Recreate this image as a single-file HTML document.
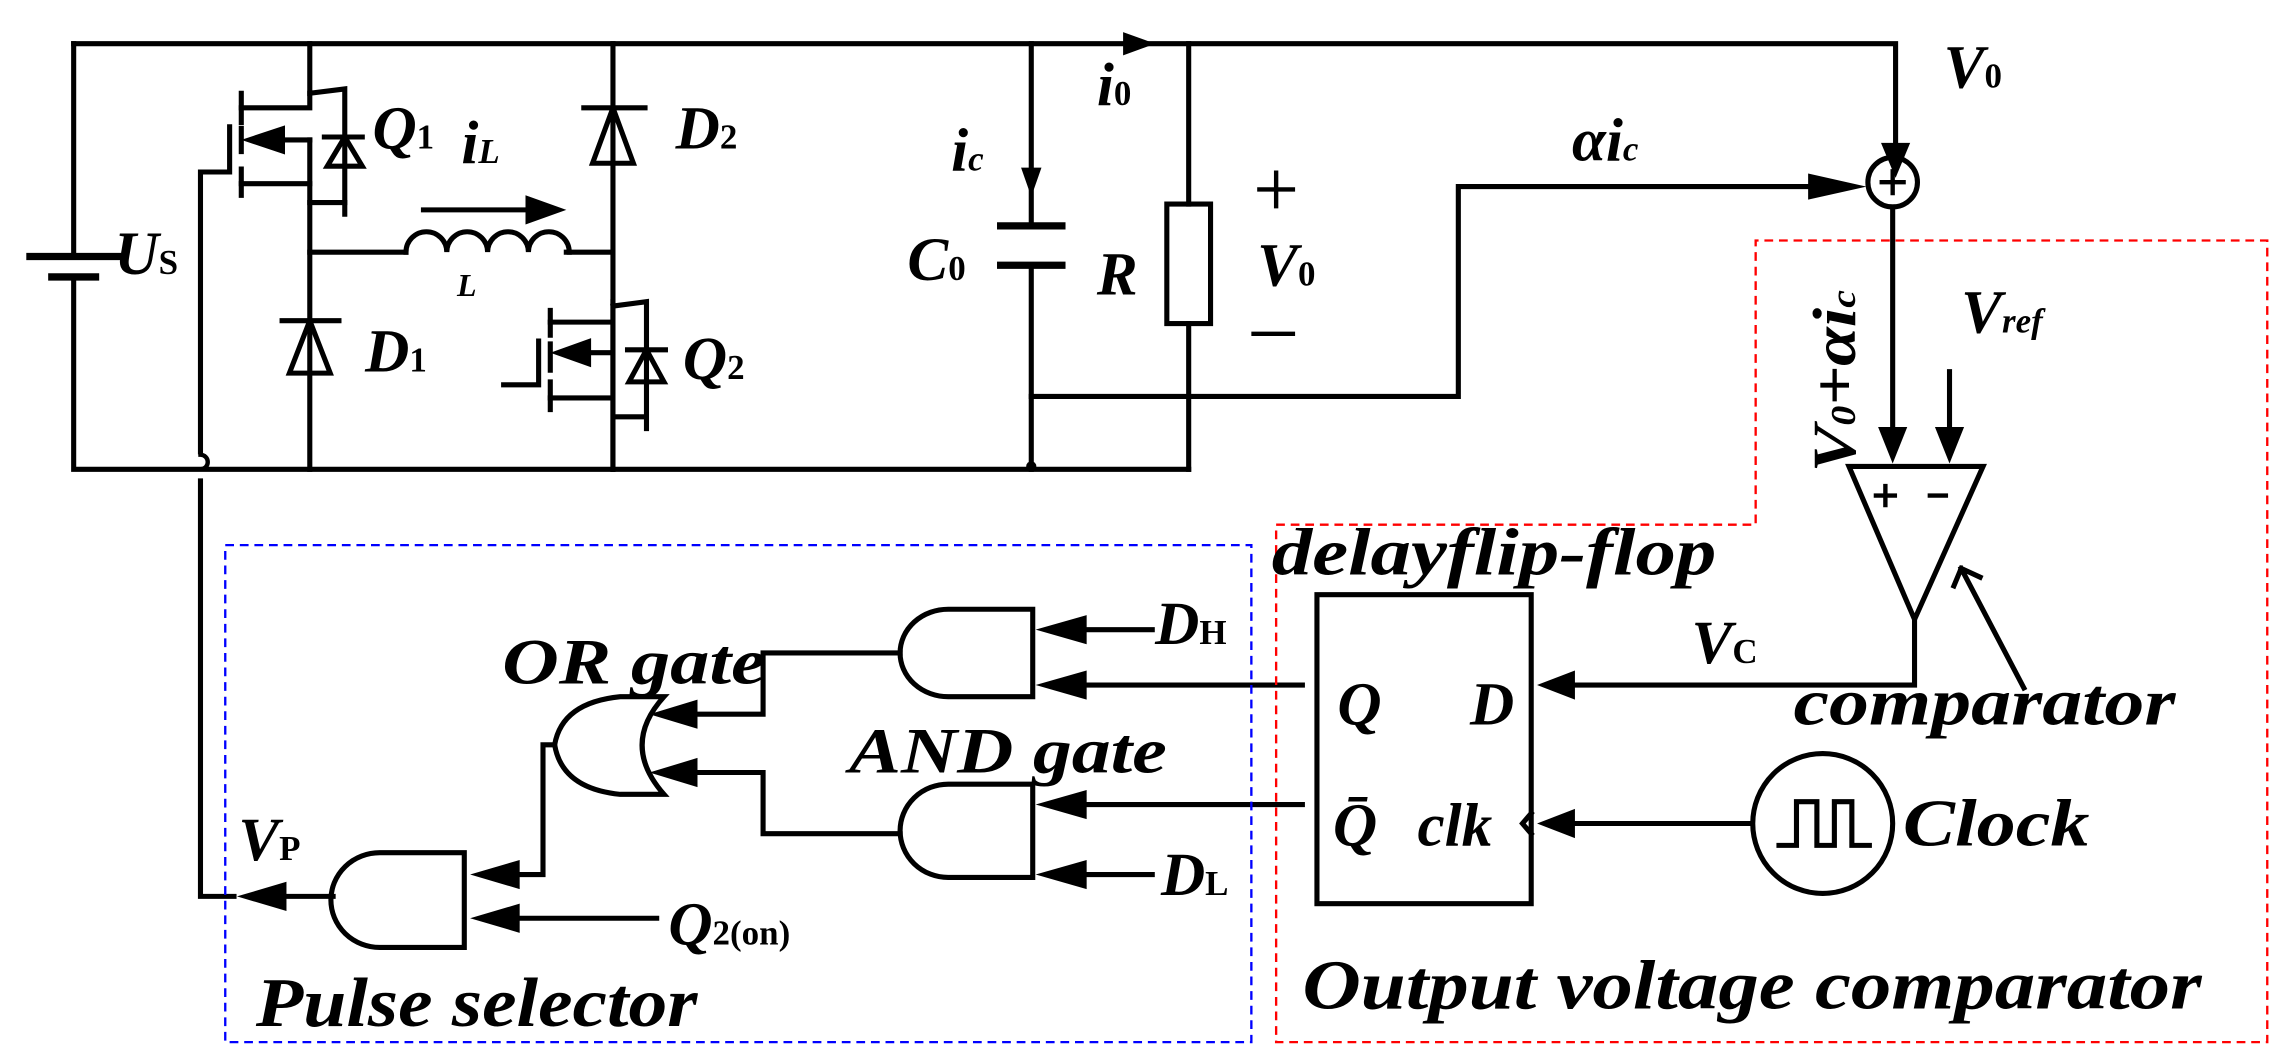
<!DOCTYPE html>
<html><head><meta charset="utf-8"><style>
html,body{margin:0;padding:0;background:#fff;}
svg{display:block}
text{font-family:"Liberation Serif",serif;font-style:italic;font-weight:bold;fill:#000}
</style></head><body>
<svg width="2287" height="1064" viewBox="0 0 1568 730" xmlns="http://www.w3.org/2000/svg">
<g stroke="#000" stroke-width="3.5" fill="none" stroke-linecap="square">
<path d="M50 30 H1300 V115"/>
<path d="M50 30 V176 M50 190 V322 H815"/>
<path d="M20 176 H80" stroke-width="5"/><path d="M35 190 H65" stroke-width="5"/>
<path d="M212 30 V64 L236 61 V147"/>
<path d="M212 64 V74 H165"/>
<path d="M212 96 V322"/>
<path d="M212 126 H165 M212 139 H236"/>
<path d="M165 64 V84 M165 88 V104 M165 116 V134"/>
<path d="M157 87 V118 H137 V310"/>
<path d="M195 96 H212"/>
<path d="M222 94 H248 M224 114 L236 94 L248 114 Z"/>
<path d="M212 173 H278 M388 173 H420"/>
<path d="M278 173 a14 14 0 0 1 28 0 a14 14 0 0 1 28 0 a14 14 0 0 1 28 0 a14 14 0 0 1 28 0"/>
<path d="M290 144 H365"/>
<path d="M193 220 H232 M198 256 L212 220 L226 256 Z"/>
<path d="M420 30 V322"/>
<path d="M400 74 H442 M406 112 L420 74 L434 112 Z"/>
<path d="M420 207 V221 H377 M420 210 L443 207 V294 M420 221 V322 M420 273 H377 M420 286 H443"/>
<path d="M377 213 V230 M377 236 V254 M377 262 V281"/>
<path d="M369 234 V264 H345"/>
<path d="M405 242 H420"/>
<path d="M430 240 H456 M431 262 L443 240 L455 262 Z"/>
<path d="M707 30 V155 M707 182 V322"/>
<path d="M686 155 H728 M686 182 H728" stroke-width="5"/>
<path d="M815 30 V140 M815 222 V322"/>
<rect x="800" y="140" width="30" height="82"/>
<path d="M707 272 H1000 V128 H1268"/>
<circle cx="1298" cy="125" r="17"/>
<path d="M1298 142 V300 M1337 255 V300"/>
<path d="M1268 320 H1360 L1313 425 Z"/>
<path d="M1313 425 V470 H1065"/>
<path d="M1388 472 L1345 390 M1345 390 L1340 402 M1345 390 L1358 396"/>
<rect x="903" y="408" width="147" height="212"/>
<path d="M1050 558 L1044 565 L1050 572"/>
<circle cx="1250" cy="565" r="48"/>
<path d="M1200 565 H1068"/>
<path d="M1220 580 H1232 V550 H1246 V580 H1258 V550 H1270 V580 H1282"/>
<path d="M708 418 H650 A33 30 0 0 0 650 478 H708 Z"/>
<path d="M708 538 H650 A33 32 0 0 0 650 602 H708 Z"/>
<path d="M318 585 H260 A33 32 0 0 0 260 650 H318 Z"/>
<path d="M455 478 H425 Q385 482 380 511 Q385 541 425 545 H455 Q425 511 455 478 Z"/>
<path d="M790 432 H728 M893 470 H728 M893 552 H728 M790 600 H728"/>
<path d="M617 448 H523 V490 H460 M617 572 H523 V530 H460"/>
<path d="M380 511 H372 V600 H338 M450 630 H338"/>
<path d="M228 615 H180 M160 615 H137 V330"/>
<path d="M137 322 a5 5 0 0 0 0 -10" stroke-width="3"/>
</g>
<g fill="#000">
<path d="M770 22 L792 30 L770 38 Z"/>
<path d="M700 115 L707 135 L714 115 Z"/>
<path d="M1290 98 L1300 122 L1310 98 Z"/>
<path d="M1240 119 L1280 128 L1240 137 Z"/>
<path d="M1288 293 L1298 318 L1308 293 Z"/>
<path d="M1327 293 L1337 318 L1347 293 Z"/>
<path d="M1080 460 L1054 470 L1080 480 Z"/>
<path d="M1080 555 L1054 565 L1080 575 Z"/>
<path d="M745 422 L710 432 L745 442 Z"/>
<path d="M745 460 L710 470 L745 480 Z"/>
<path d="M745 542 L710 552 L745 562 Z"/>
<path d="M745 590 L710 600 L745 610 Z"/>
<path d="M478 480 L445 490 L478 500 Z"/>
<path d="M478 520 L445 530 L478 540 Z"/>
<path d="M356 590 L322 600 L356 610 Z"/>
<path d="M356 620 L322 630 L356 640 Z"/>
<path d="M196 605 L162 615 L196 625 Z"/>
<path d="M360 134 L388 144 L360 154 Z"/>
<path d="M165 96 L195 86 L195 106 Z"/>
<path d="M377 242 L405 232 L405 252 Z"/>
<circle cx="707" cy="320" r="3.5"/>
</g>
<g stroke="#000" stroke-width="3">
<path d="M1298 116 V134 M1289 125 H1307"/>
<path d="M862 130 H888 M875 117 V143 M858 229 H888"/>
<path d="M1285 340 H1301 M1293 332 V348 M1322 340 H1336"/>
</g>
<rect x="154" y="374" width="704" height="341" fill="none" stroke="#0000ff" stroke-width="1.6" stroke-dasharray="6,4"/>
<path d="M875 360 H1204 V165 H1555 V715 H875 Z" fill="none" stroke="#ff0000" stroke-width="1.6" stroke-dasharray="6,4"/>
<g font-size="42">
<text x="78" y="188">U<tspan font-size="24" font-style="normal">S</tspan></text>
<text x="255" y="102">Q<tspan font-size="24" font-style="normal">1</tspan></text>
<text x="316" y="112">i<tspan font-size="24">L</tspan></text>
<text x="463" y="102">D<tspan font-size="24" font-style="normal">2</tspan></text>
<text x="250" y="255">D<tspan font-size="24" font-style="normal">1</tspan></text>
<text x="468" y="260">Q<tspan font-size="24" font-style="normal">2</tspan></text>
<text x="313" y="203" font-size="22">L</text>
<text x="752" y="72">i<tspan font-size="24" font-style="normal">0</tspan></text>
<text x="652" y="117">i<tspan font-size="24">c</tspan></text>
<text x="622" y="192">C<tspan font-size="24" font-style="normal">0</tspan></text>
<text x="752" y="202">R</text>
<text x="862" y="196">V<tspan font-size="24" font-style="normal">0</tspan></text>
<text x="1333" y="60">V<tspan font-size="24" font-style="normal">0</tspan></text>
<text x="1078" y="110">αi<tspan font-size="24">c</tspan></text>
<text x="1345" y="228">V<tspan font-size="24">ref</tspan></text>
<text transform="translate(1272,324) rotate(-90)" textLength="125" lengthAdjust="spacingAndGlyphs">V<tspan font-size="24">0</tspan>+αi<tspan font-size="24">c</tspan></text>
<text x="1160" y="455">V<tspan font-size="24" font-style="normal">C</tspan></text>
<text x="872" y="394" font-size="46" textLength="305" lengthAdjust="spacingAndGlyphs">delayflip-flop</text>
<text x="917" y="497">Q</text>
<text x="1008" y="497">D</text>
<text x="914" y="580">Q̄</text>
<text x="972" y="580">clk</text>
<text x="1230" y="497" font-size="46" textLength="262" lengthAdjust="spacingAndGlyphs">comparator</text>
<text x="1305" y="580" font-size="46" textLength="128" lengthAdjust="spacingAndGlyphs">Clock</text>
<text x="893" y="692" font-size="48" textLength="617" lengthAdjust="spacingAndGlyphs">Output voltage comparator</text>
<text x="344" y="469" font-size="44" textLength="181" lengthAdjust="spacingAndGlyphs">OR gate</text>
<text x="582" y="530" font-size="44" textLength="218" lengthAdjust="spacingAndGlyphs">AND gate</text>
<text x="792" y="442">D<tspan font-size="24" font-style="normal">H</tspan></text>
<text x="796" y="614">D<tspan font-size="24" font-style="normal">L</tspan></text>
<text x="163" y="590">V<tspan font-size="24" font-style="normal">P</tspan></text>
<text x="458" y="648">Q<tspan font-size="24" font-style="normal">2(on)</tspan></text>
<text x="175" y="704" font-size="48" textLength="303" lengthAdjust="spacingAndGlyphs">Pulse selector</text>
</g>
</svg>
</body></html>
